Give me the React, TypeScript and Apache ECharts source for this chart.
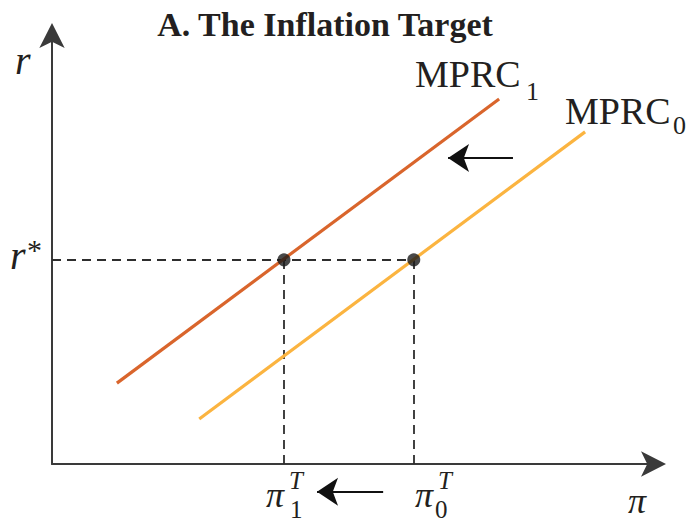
import React, { useEffect, useRef } from "react";
import * as echarts from "echarts";

// Axis domains (arbitrary units)
const X_MIN = 0;
const X_MAX = 10;
const Y_MIN = 0;
const Y_MAX = 10;

// Monetary policy reaction curves: [pi, r] endpoints
const MPRC1_POINTS = [
  [1.08, 1.89],
  [7.44, 8.53],
];
const MPRC0_POINTS = [
  [2.45, 1.05],
  [8.87, 7.76],
];

// Equilibrium real rate and inflation targets
const R_STAR = 4.77;
const PI_1 = 3.86;
const PI_0 = 6.02;

// Shift arrows: [from, to]
const SHIFT_ARROWS = [
  [
    [7.67, 7.15],
    [6.59, 7.15],
  ],
  [
    [5.51, -0.65],
    [4.41, -0.65],
  ],
];

const FONT = '"Liberation Serif", "Times New Roman", serif';
const INK = "#231f20";

function txt(
  text: string,
  x: number,
  y: number,
  size: number,
  opts: { bold?: boolean; italic?: boolean; align?: string } = {}
) {
  return {
    type: "text",
    x,
    y,
    silent: true,
    style: {
      text,
      fontSize: size,
      fontFamily: FONT,
      fontWeight: opts.bold ? "bold" : "normal",
      fontStyle: opts.italic ? "italic" : "normal",
      fill: INK,
      align: opts.align || "left",
      verticalAlign: "middle",
    },
  };
}

export default function App() {
  const ref = useRef<HTMLDivElement>(null);

  useEffect(() => {
    if (!ref.current) return;
    const chart = echarts.init(ref.current, undefined, { renderer: "svg" });

    const axisCommon = {
      type: "value",
      axisLine: {
        show: true,
        onZero: false,
        symbol: ["none", "arrow"],
        symbolSize: [19, 25],
        symbolOffset: [0, 13],
        lineStyle: { color: "#3a3a3a", width: 2 },
      },
      axisTick: { show: false },
      axisLabel: { show: false },
      splitLine: { show: false },
    };

    const option = {
      animation: false,
      backgroundColor: "#ffffff",
      grid: { left: 52, right: 38, top: 36, bottom: 59 },
      xAxis: { ...axisCommon, min: X_MIN, max: X_MAX },
      yAxis: { ...axisCommon, min: Y_MIN, max: Y_MAX },
      series: [
        {
          name: "guides",
          type: "lines",
          coordinateSystem: "cartesian2d",
          silent: true,
          clip: false,
          lineStyle: { color: "#2e2e2e", width: 1.8, type: [9, 6], opacity: 1 },
          data: [
            { coords: [[X_MIN, R_STAR], [PI_0, R_STAR]] },
            { coords: [[PI_1, Y_MIN], [PI_1, R_STAR]] },
            { coords: [[PI_0, Y_MIN], [PI_0, R_STAR]] },
          ],
          z: 1,
        },
        {
          name: "MPRC1",
          type: "line",
          data: MPRC1_POINTS,
          symbol: "none",
          lineStyle: { color: "#d9652c", width: 3.2 },
          z: 2,
        },
        {
          name: "MPRC0",
          type: "line",
          data: MPRC0_POINTS,
          symbol: "none",
          lineStyle: { color: "#fbb440", width: 3.2 },
          z: 2,
        },
        {
          name: "equilibria",
          type: "scatter",
          data: [
            [PI_1, R_STAR],
            [PI_0, R_STAR],
          ],
          symbol: "circle",
          symbolSize: 13,
          itemStyle: { color: "#1a1a1a" },
          z: 3,
        },
        {
          name: "shifts",
          type: "lines",
          coordinateSystem: "cartesian2d",
          silent: true,
          clip: false,
          symbol: ["none", "arrow"],
          symbolSize: [17, 21],
          lineStyle: { color: "#111", width: 2, opacity: 1 },
          data: SHIFT_ARROWS.map((c) => ({ coords: c })),
          z: 4,
        },
      ],
      graphic: [
        txt("A. The Inflation Target", 325, 24.6, 34, { bold: true, align: "center" }),
        txt("r", 15, 60, 40, { italic: true }),
        txt("r", 10, 255, 40, { italic: true }),
        txt("*", 27, 249, 30),
        txt("π", 628, 501, 36, { italic: true }),
        txt("MPRC", 415, 74.4, 38),
        txt("1", 526, 91, 26),
        txt("MPRC", 565, 111.4, 38),
        txt("0", 673, 125, 26),
        txt("π", 266, 494.6, 36, { italic: true }),
        txt("T", 289, 480, 25, { italic: true }),
        txt("1", 290, 509, 25),
        txt("π", 415, 494.6, 36, { italic: true }),
        txt("T", 438, 480, 25, { italic: true }),
        txt("0", 435, 509, 25),
      ],
    };

    chart.setOption(option as any);
    return () => chart.dispose();
  }, []);

  return (
    <div
      ref={ref}
      style={{ position: "fixed", left: 0, top: 0, width: 691, height: 523, background: "#fff" }}
    />
  );
}
